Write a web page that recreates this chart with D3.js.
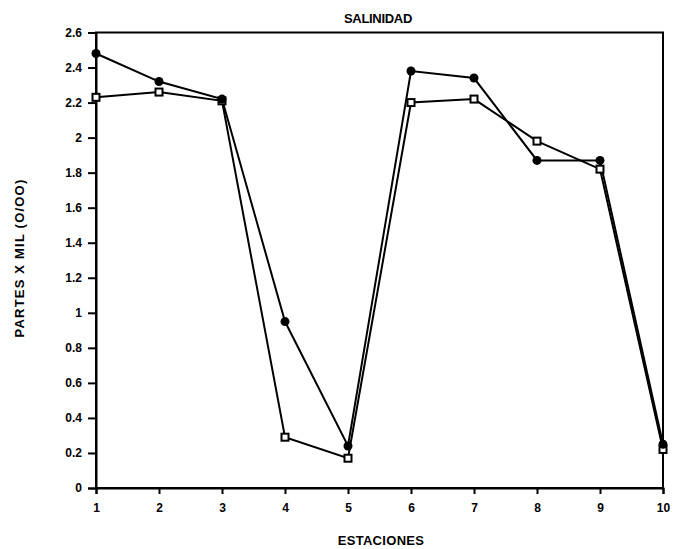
<!DOCTYPE html>
<html><head><meta charset="utf-8">
<script src="https://cdn.jsdelivr.net/npm/d3@7/dist/d3.min.js"></script>
<style>body{margin:0;background:#fff}</style>
</head><body>
<svg id="c" width="676" height="549"></svg>
<script>
const estaciones = [1,2,3,4,5,6,7,8,9,10];
const serieCirculos = [2.48,2.32,2.22,0.95,0.24,2.38,2.34,1.87,1.87,0.25];
const serieCuadros = [2.23,2.26,2.21,0.29,0.17,2.20,2.22,1.98,1.82,0.22];
const yTicks = [0,0.2,0.4,0.6,0.8,1,1.2,1.4,1.6,1.8,2,2.2,2.4,2.6];
const titulo = "SALINIDAD";
const xTitulo = "ESTACIONES";
const yTitulo = "PARTES X MIL (O/OO)";

const svg = d3.select("#c");
const L=96,R=663,T=32.5,B=488;
const x = d3.scaleLinear().domain([1,10]).range([L,R]);
const y = d3.scaleLinear().domain([0,2.6]).range([B,T]);
const font = "'Liberation Sans', Arial, sans-serif";

// frame
svg.append("rect").attr("x",L).attr("y",T).attr("width",R-L).attr("height",B-T)
  .attr("fill","none").attr("stroke","#000").attr("stroke-width",2);

const ya = svg.append("g").attr("transform",`translate(${L},0)`)
  .call(d3.axisLeft(y).tickValues(yTicks).tickSize(8).tickPadding(6).tickFormat(d=>String(+d.toFixed(1))));
const xa = svg.append("g").attr("transform",`translate(0,${B})`)
  .call(d3.axisBottom(x).tickValues(estaciones).tickSize(6).tickPadding(9).tickFormat(d3.format("d")));
[ya,xa].forEach(a=>{
  a.select(".domain").attr("stroke","#000").attr("stroke-width",2);
  a.selectAll(".tick line").attr("stroke","#000").attr("stroke-width",2);
  a.selectAll("text").attr("font-family",font).attr("font-size",12).attr("font-weight","bold").attr("fill","#000");
});

const line = d3.line().x((d,i)=>x(estaciones[i])).y(d=>y(d));
svg.append("path").datum(serieCuadros).attr("d",line).attr("fill","none").attr("stroke","#000").attr("stroke-width",2);
svg.append("path").datum(serieCirculos).attr("d",line).attr("fill","none").attr("stroke","#000").attr("stroke-width",2);

svg.selectAll(".sq").data(serieCuadros).enter().append("rect")
  .attr("x",(d,i)=>x(estaciones[i])-3.5).attr("y",d=>y(d)-3.5).attr("width",7).attr("height",7)
  .attr("fill","#fff").attr("stroke","#000").attr("stroke-width",2);
svg.selectAll(".ci").data(serieCirculos).enter().append("circle")
  .attr("cx",(d,i)=>x(estaciones[i])).attr("cy",d=>y(d)).attr("r",4.5).attr("fill","#000");

svg.append("text").attr("x",378).attr("y",23).attr("text-anchor","middle")
  .attr("font-family",font).attr("font-size",13).attr("font-weight","bold").attr("letter-spacing",-0.3).text(titulo);
svg.append("text").attr("x",381).attr("y",545).attr("text-anchor","middle")
  .attr("font-family",font).attr("font-size",13).attr("font-weight","bold").attr("letter-spacing",0.3).text(xTitulo);
svg.append("text").attr("transform","translate(24,258) rotate(-90)").attr("text-anchor","middle")
  .attr("font-family",font).attr("font-size",13).attr("font-weight","bold").attr("letter-spacing",1.2).text(yTitulo);
</script>
</body></html>
